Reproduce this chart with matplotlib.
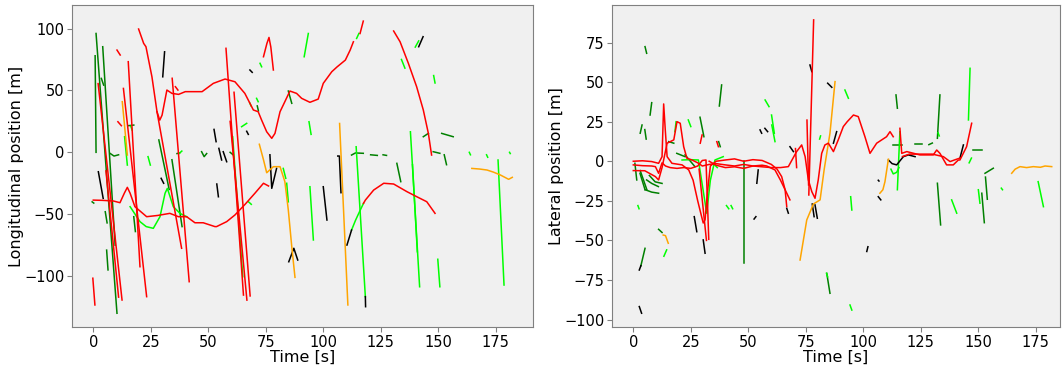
import matplotlib
matplotlib.use("Agg")
import matplotlib.pyplot as plt

# ---- longitudinal position (left panel), each entry: (times, positions) ----
lon_red = [
    ([19.7, 21.9, 22.9, 25.5, 27.7, 28.9, 29.9, 32, 34.2, 37.1, 40, 44.3, 47.3, 52.2, 57.3, 61.6, 65.9,
      69.6, 71.7, 73.2, 75.4, 77.6, 79, 81.2, 82.6, 85.5, 88.4, 90.6, 94.2, 97.8, 100, 103.7, 106,
      109.6, 111.7, 113.1],
     [99.6, 88, 85.3, 61, 32.8, 26, 30, 50.3, 47.6, 46.8, 49, 49, 49, 55.7, 59.2, 57, 47.6,
      34.2, 32.8, 26, 16.6, 11.3, 15.3, 32.8, 38.2, 49.5, 47.6, 43.6, 40.4, 43, 55.7, 65.1, 69,
      74.5, 82.6, 89.3]),
    ([116, 117.4], [96, 106]),
    ([0, 4, 8.7, 11.6, 13.5, 14.8, 16, 18.1, 23.2, 28, 33.3, 37, 40.6, 44.2, 47.8, 52.9, 53.6, 58,
      61.6, 66, 70.3, 74, 76.2],
     [-38.6, -38.8, -39.3, -40.7, -33, -28.3, -33, -43.9, -52, -51, -49.3, -52, -52, -56.9, -56.9,
      -60, -60, -56, -50.6, -42, -33, -25, -27.2]),
    ([117.5, 118.3, 121.9, 126.3, 130.6, 136.4, 140.7, 145, 148.6],
     [-41.2, -38.6, -30.5, -25, -25.6, -31.8, -35.9, -39.9, -49.3]),
    ([130.6, 133.4, 137, 140.6, 143.5, 145.7, 147.1], [98, 89.3, 71.9, 53, 34.2, 15.3, -2.2]),
    ([74, 75.5, 76.4, 77.2, 78.3], [77.2, 88, 92.8, 85, 66.5]),
    ([-0.2, 0.7], [-101.7, -123.3]),
    ([2.1, 12.5], [55.5, -119.3]),
    ([5.5, 11], [-15, -117]),
    ([13.1, 23.2], [51.6, -116.6]),
    ([15.2, 20.3], [73.2, -92.4]),
    ([27.7, 38.4], [32.8, -77.5]),
    ([34.3, 41.7], [59.8, -104.5]),
    ([57.7, 65.3], [84, -115.3]),
    ([61.2, 68.2], [48.5, -116]),
    ([59.5, 66.8], [25, -119.4]),
    ([10.3, 11.7], [82.6, 78.6]),
    ([10.7, 12.2], [24.7, 21.5]),
    ([35.7, 36.8], [53, 50.3]),
]
lon_lime = [
    ([16, 20.3, 23, 26.1, 29, 31.2, 32.2, 34.8, 37.7, 40.6],
     [-43.9, -56, -60, -61.4, -52, -33.1, -29.1, -43.9, -49.3, -52]),
    ([13.6, 14.8], [12.6, -10.3]),
    ([60.6, 65], [12.6, -100.5]),
    ([91.7, 93.5], [77.2, 96]),
    ([93.8, 94.7], [24.7, 14.5]),
    ([94.2, 95.7], [-27.8, -70.8]),
    ([82.6, 83.7], [-13, -21]),
    ([84.1, 84.8], [-25, -40]),
    ([112.3, 114, 116, 117.5], [-62.8, -55, -47, -41.2]),
    ([114.5, 115.5], [92, 96]),
    ([114.3, 118.3], [4.5, -116.6]),
    ([137.9, 141.9], [16.6, -108.6]),
    ([138.8, 140.9], [-10, -80.3]),
    ([149.8, 150.7], [-86.4, -108.6]),
    ([176, 178.6], [-6.2, -107.2]),
    ([134, 135.5], [75, 68]),
    ([23.8, 24.8], [-3.5, -10.3]),
    ([37.3, 38.5], [-1, 1]),
    ([16.3, 16.9], [21, 18]),
    ([71, 71.7], [43.6, 40.9]),
    ([72.5, 73.2], [71.9, 69.1]),
    ([64.5, 66.7], [20.7, 23.4]),
    ([67.5, 68.7], [-40, -42]),
    ([68, 68.6], [40, 37.5]),
    ([140, 141.5], [85, 90]),
    ([148, 148.6], [62, 56]),
    ([163.5, 164], [0, -2]),
    ([171, 171.5], [-2, -4]),
    ([181, 181.3], [0, -1]),
]
lon_dkgreen = [
    ([0.8, 1.2], [78, 0]),
    ([1.2, 10.3], [96, -130]),
    ([4.1, 9.5], [85.3, -75]),
    ([5.2, 6.0], [-48, -57]),
    ([5.8, 6.4], [-79, -95]),
    ([28.5, 33], [10, -30]),
    ([34.2, 38.6], [-6, -60]),
    ([17.6, 18.3], [-52, -64]),
    ([3.5, 4.5], [59.7, 54.3]),
    ([15.1, 17.6], [21.5, 22]),
    ([7.4, 9, 11], [-1, -3, -2]),
    ([36.4, 37.5], [-1, -0.5]),
    ([47.1, 48.2, 49.3], [0.5, -3.5, -1]),
    ([59.5, 60.8], [0, -2]),
    ([84.8, 86.3], [49.5, 39.6]),
    ([71.3, 71.8], [37.5, 33.5]),
    ([112.3, 114, 117.4], [-2.2, -0.5, -0.8]),
    ([120.6, 123.5], [-2, -2.5]),
    ([126, 127.5], [-2, -2.5]),
    ([132, 133.7], [-8.9, -23.7]),
    ([143.5, 145.7], [12.6, 15.3]),
    ([147.8, 150.7], [0.5, -0.8]),
    ([151.5, 156.5], [15.3, 12.6]),
    ([152.6, 153.6], [-2, -10]),
    ([-0.5, 0.2], [-40, -41]),
]
lon_black = [
    ([30.2, 31], [61, 81.2]),
    ([2.2, 4.3], [-15.7, -37.2]),
    ([52.5, 53.4], [18.5, 8.6]),
    ([53.7, 54.4], [-25.6, -35.9]),
    ([54.6, 55.8], [3.2, -6.2]),
    ([56.5, 58], [0.5, -7.6]),
    ([76.8, 77.6, 79.7], [-2, -29.1, -13]),
    ([100, 101.6], [-27.8, -54.7]),
    ([85, 87.2, 88.9], [-88.4, -77.5, -87]),
    ([29.5, 30.6], [-21, -25]),
    ([106.3, 107, 107.7], [-3, -3, -32.6]),
    ([141.5, 143.4], [85.3, 93.4]),
    ([68.1, 69.1], [66.5, 64.6]),
    ([66.7, 67.4], [17, 14.5]),
    ([110.3, 112.3], [-74.9, -62.8]),
    ([118.3, 118.4], [-116.6, -124.7]),
]
lon_orange = [
    ([12.6, 14.8], [40.9, -2.2]),
    ([72.2, 74, 75.4, 78.3, 81.2, 83.3, 84.8, 86.3, 87.7],
     [6.5, -6, -16.5, -11.6, -11.6, -23.7, -46.6, -76.2, -101]),
    ([107.1, 110.7], [23.3, -123.3]),
    ([164.6, 168, 171.2, 174, 177, 180.6, 182.2], [-13, -13.5, -14.3, -16, -18.3, -21.8, -20.2]),
]

# ---- lateral position (right panel) ----
lat_red = [
    ([0, 4, 8, 11, 12.5, 13.2, 13.9, 14.7, 16.8, 21.2, 24.1, 26, 28, 29.7, 30.4, 31.2, 32.2, 33.5, 36,
      40, 44, 48, 52, 56, 60, 62.5, 64.5, 66, 66.7],
     [0, 0.3, -0.2, -1.3, 2.9, 36.2, 19.8, 2.9, -1.3, -2.3, -5.5, -12, -25, -35, -39, -37, -20, -3, 0,
      0.8, 1.5, 0, 1, 0.5, -2, -5, -9.7, -18, -28.6]),
    ([0, 4, 8, 9.6, 11, 12.5, 14, 16, 19, 22, 25, 28, 30, 31.6, 32.8],
     [-2.3, -2.8, -3, -3.4, -7.6, -1, -3, -4, -4.5, -4, -4.5, -3, 0.5, 0.8, -49.3]),
    ([0, 5, 9.6, 11, 12.5, 14.7, 17.6, 19, 20.4, 21.9, 23.3, 25.5, 28, 30, 33, 36, 40, 44, 48, 52, 56,
      58, 61.6, 64, 66, 68.1],
     [-5.9, -6, -9.7, -11.8, -4, 11.4, 13.5, 25, 24, 9.2, 1.9, 0.8, -1, -3, -2, -1.5, -2.3, -3, -2,
      -3, -2.5, -3, -5.5, -12, -18, -24.4]),
    ([28.6, 31.8], [-5, -50]),
    ([33, 36, 40, 44, 48, 52, 56, 60, 64, 67.4, 71, 73.2, 74.7, 76.1, 77.6, 79, 80.4, 81.9, 83.3,
      84.8, 87, 89.1, 91.3, 93, 95.7, 97.8, 100.7, 102.9, 105.8, 108, 110.1, 111.6, 113],
     [0, -2.5, -4, -3.5, -4.5, -3, -3.5, -4, -4, -3.4, 6.1, 10.3, 2.9, -11.8, -19.2, -23.4, -11.8, 5,
      10.3, 11.4, 6.1, 13.5, 21.9, 25, 29.2, 28.2, 15.5, 5, 11.4, 13.5, 15.5, 18.7, 15.5]),
    ([75.5, 76.2], [26, -15]),
    ([76.3, 78.4], [-21.3, 89.3]),
    ([115.9, 116.7, 118.9, 124.6, 130.4, 131.9, 133.3, 136.2, 139.1, 141.3, 142, 144.9, 147.1],
     [20.8, 5, 6.1, 4, 4, 7.1, 5, -2.3, -2.3, 0.8, 0.8, 9.2, 24]),
    ([117, 120, 125, 130, 134.8, 137.7, 140, 142], [3, 4.5, 4.5, 4.5, 2.9, -0.2, 1, 2]),
    ([29.1, 29.9], [11.4, 16.6]),
    ([36.3, 37], [12.4, 9.2]),
    ([70.5, 71], [8, -4]),
]
lat_lime = [
    ([21.2, 25, 28.3, 30, 31.9, 33.5, 35.5, 39.1], [0.8, 1, 0.8, -15, -32.8, -12, 0.8, 2.9]),
    ([114.8, 115.9], [-18, 18.7]),
    ([112, 113, 114.5, 115.5], [-5, -8, -7, -4]),
    ([145.7, 146.4], [26.1, 58.7]),
    ([176, 178.3], [-12.9, -28.7]),
    ([57.3, 59], [38.7, 34.5]),
    ([60.1, 61.3], [29.2, 17.7]),
    ([60.2, 61.6], [22.9, 12.4]),
    ([18.6, 18.1], [25, 18.7]),
    ([23.9, 25], [26.1, 21.9]),
    ([40.5, 41.5], [-28, -30]),
    ([42.5, 43.2], [-28, -30]),
    ([13.3, 14.5], [-60, -56]),
    ([92, 93.5], [45, 39.8]),
    ([81, 81.4], [14, 16]),
    ([94.5, 95], [-22.4, -30.8]),
    ([94.2, 95], [-90.8, -94]),
    ([84, 84.5], [-70.8, -73]),
    ([138.4, 140.6], [-24.4, -32.8]),
    ([132.5, 133], [18, 16]),
    ([150, 150.7], [-18, -26.5]),
    ([146, 147], [-1, 2]),
    ([35.2, 36.5], [-2, -4]),
    ([2, 2.5], [-28, -30]),
    ([160, 160.5], [-17, -18]),
]
lat_dkgreen = [
    ([48.3, 48.3], [0.2, -64.4]),
    ([5.1, 5.8], [72.4, 68.2]),
    ([38.4, 37.4], [48.2, 34.9]),
    ([8, 7.3], [37, 29.2]),
    ([29, 30.7], [27.8, 15.5]),
    ([0.7, 1.5], [-1.3, -11.8]),
    ([2.9, 5.1], [-7.6, -18]),
    ([5.8, 8, 10.9], [-11.8, -14, -16]),
    ([3, 5.9], [-5.9, -18]),
    ([5.2, 8, 11], [-18, -19.5, -20.2]),
    ([7, 9.5, 12.5], [-9, -13, -14]),
    ([3, 3.8], [17.7, 22.9]),
    ([5, 5.6], [20, 14]),
    ([15.4, 17.6], [12.4, 11.4]),
    ([18.9, 22.5], [5, 2.9]),
    ([22.5, 26.8], [4, -3.4]),
    ([37.1, 37.8], [12.4, 9.2]),
    ([5.1, 3.3], [-55, -66]),
    ([114.2, 114.8], [41.9, 33.5]),
    ([133.3, 132.2], [41.9, 14.5]),
    ([132.2, 133.6], [-13.9, -40.2]),
    ([151.5, 152.6], [-20.2, -38.8]),
    ([152.9, 156.5], [-7.6, -4.4]),
    ([153.1, 153.9], [-10, -24]),
    ([147.8, 151.5], [7.1, 7.1]),
    ([113, 116.7], [10.3, 10.3]),
    ([122.6, 125.5], [10.9, 10.9]),
    ([128.5, 130], [10.5, 11.5]),
    ([84.1, 85.5], [-70.8, -83.4]),
    ([11, 12.5], [-43, -45]),
]
lat_black = [
    ([2.6, 3.6], [-91.8, -96]),
    ([3.3, 2.6], [-66, -68.7]),
    ([26.5, 27.6], [-35, -44.5]),
    ([54.3, 53.7], [-5.5, -13.9]),
    ([30.4, 31.2], [-49.7, -58.1]),
    ([52.5, 53.3], [-36.5, -35]),
    ([55.1, 55.8], [19.8, 17.7]),
    ([57.2, 58.4], [20.8, 18.7]),
    ([68.1, 69.6], [9.2, 6.1]),
    ([66.7, 67.4], [-29.7, -32.8]),
    ([76.8, 77.6], [60.8, 56.6]),
    ([77.8, 78.6], [-27, -35]),
    ([79, 80], [-27.6, -36]),
    ([84.5, 86.3], [49.3, 46.7]),
    ([87, 88.4], [11.4, 18.7]),
    ([110.9, 112.5, 114.5, 117.4, 119.6, 122.5], [0.8, -1.5, -2.3, 2.9, 4, 2.9]),
    ([142, 143.5], [1.9, 10.3]),
    ([106.5, 107.6], [-22.4, -24.4]),
    ([101.5, 102], [-57, -54]),
    ([106.5, 106.8], [-12, -12.5]),
]
lat_orange = [
    ([72.5, 75.4, 78.3, 81.2, 83, 85.5, 87.7], [-62.4, -37.1, -27, -24.4, -5, 17.7, 50.3]),
    ([107.2, 108.5, 109.4, 110.9], [-20.2, -18, -12.9, 1.3]),
    ([164.5, 166, 168.1, 171, 173.9, 177, 179, 181.9], [-7.6, -5, -3.4, -4, -3.4, -3.8, -3, -3.4]),
    ([13, 14, 15.2], [-46.6, -47, -51.8]),
]

LINE_W = 1.1


def draw_tracks(ax, groups):
    for segs, color in groups:
        for t, y in segs:
            ax.plot(t, y, color=color, lw=LINE_W)


def style_axes(ax, ylabel, xlim, ylim):
    ax.set_facecolor("#f0f0f0")
    for sp in ax.spines.values():
        sp.set_color("#808080")
    ax.tick_params(colors="#808080", labelcolor="black", labelsize=10.5,
                   length=3.5, pad=2)
    ax.set_xlim(*xlim)
    ax.set_ylim(*ylim)
    ax.set_xlabel("Time [s]", fontsize=11.5, labelpad=0)
    ax.set_ylabel(ylabel, fontsize=11.5, labelpad=0)


fig = plt.figure(figsize=(10.62, 3.67), dpi=100)
ax1 = fig.add_axes([72 / 1062, 40 / 367, 461 / 1062, 322 / 367])
ax2 = fig.add_axes([612 / 1062, 40 / 367, 448 / 1062, 322 / 367])

draw_tracks(ax1, [(lon_dkgreen, "green"), (lon_lime, "lime"), (lon_black, "black"),
                  (lon_orange, "orange"), (lon_red, "red")])
draw_tracks(ax2, [(lat_dkgreen, "green"), (lat_lime, "lime"), (lat_black, "black"),
                  (lat_orange, "orange"), (lat_red, "red")])

style_axes(ax1, "Longitudinal position [m]", (-9.26, 191.2), (-141.1, 119))
style_axes(ax2, "Lateral position [m]", (-9.26, 185.5), (-104.7, 98.7))
ax1.set_yticks([-100, -50, 0, 50, 100])
ax2.set_yticks([-100, -75, -50, -25, 0, 25, 50, 75])

fig.savefig("out.png", dpi=100)
